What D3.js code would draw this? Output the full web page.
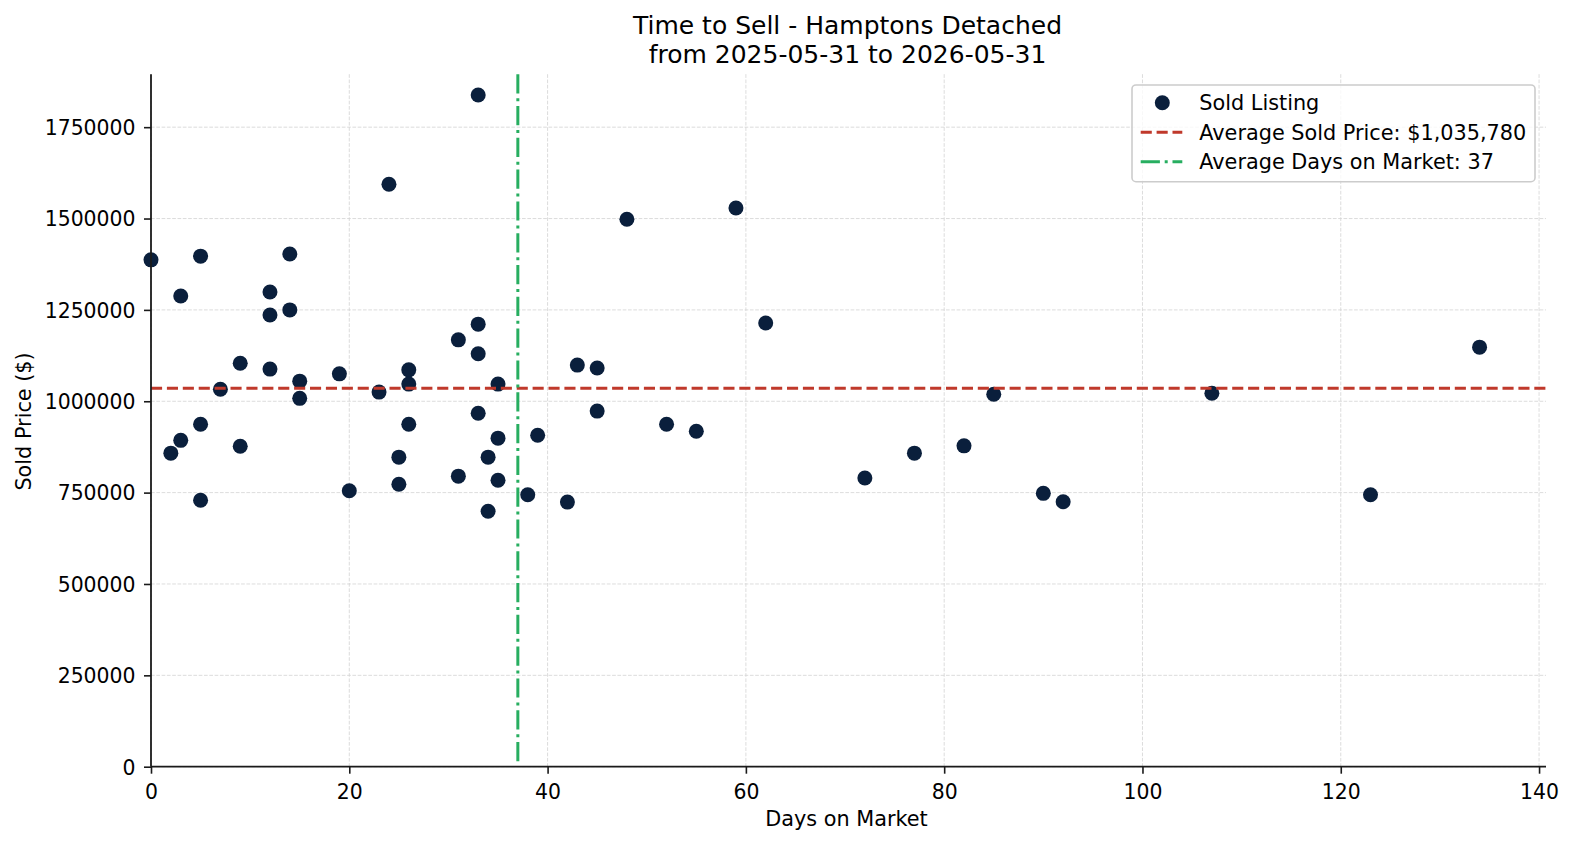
<!DOCTYPE html>
<html>
<head>
<meta charset="utf-8">
<script src="https://cdn.jsdelivr.net/npm/d3@7"></script>
<style>
  html, body { margin: 0; padding: 0; background: #ffffff; }
  svg { display: block; font-family: "DejaVu Sans", sans-serif; }
</style>
</head>
<body>
<svg id="chart" width="1573" height="845"></svg>
<script>
// ---- Data ----
const daysOnMarket = [0, 2, 3, 3, 5, 5, 5, 7, 9, 9, 12, 12, 12, 14, 14, 15, 15, 19, 20, 23, 24, 25, 25, 26, 26, 26,
  31, 31, 33, 33, 33, 33, 34, 34, 35, 35, 35, 38, 39, 42, 43, 45, 45, 48, 52, 55, 59, 62, 72, 77, 82, 85, 90, 92,
  107, 123, 134];
const soldPrices = [1387000, 858000, 1288000, 893000, 1397000, 937000, 729000, 1033000, 1104000, 877000,
  1299000, 1236000, 1088000, 1403000, 1250000, 1055000, 1008000, 1075000, 755000, 1025000, 1594000,
  847000, 773000, 1086000, 1047000, 937000, 1168000, 795000, 1838000, 1211000, 1130000, 967000,
  847000, 699000, 1047000, 899000, 784000, 744000, 907000, 724000, 1099000, 1091000, 973000, 1498000,
  937000, 918000, 1529000, 1214000, 790000, 858000, 878000, 1019000, 748000, 725000, 1022000, 744000, 1148000];
const averageSoldPrice = 1035780;
const averageDays = 37;
const xTickValues = [0, 20, 40, 60, 80, 100, 120, 140];
const yTickValues = [0, 250000, 500000, 750000, 1000000, 1250000, 1500000, 1750000];
const titleLines = ["Time to Sell - Hamptons Detached", "from 2025-05-31 to 2026-05-31"];
const legendLabels = ["Sold Listing", "Average Sold Price: $1,035,780", "Average Days on Market: 37"];

// ---- Layout ----
const plot = { left: 151, right: 1546, top: 74.2, bottom: 766.7 };
const colors = { point: "#0a1f3c", red: "#c0392b", green: "#27ae60", grid: "#d3d3d3", axis: "#1a1a1a" };
const svg = d3.select("#chart");

const xMax = d3.max(daysOnMarket), xMin = d3.min(daysOnMarket);
const yMax = d3.max(soldPrices), yMin = d3.min(soldPrices);
const x = d3.scaleLinear().domain([0, xMax + 0.05 * (xMax - xMin)]).range([plot.left, plot.right]);
const y = d3.scaleLinear().domain([0, yMax + 0.05 * (yMax - yMin)]).range([plot.bottom, plot.top]);

// Grid
const grid = svg.append("g");
grid.selectAll("line.vg").data(xTickValues).join("line")
  .attr("x1", d => x(d)).attr("x2", d => x(d)).attr("y1", plot.top).attr("y2", plot.bottom)
  .attr("stroke", colors.grid).attr("stroke-width", 0.8).attr("stroke-dasharray", "3.7,1.6");
grid.selectAll("line.hg").data(yTickValues).join("line")
  .attr("x1", plot.left).attr("x2", plot.right).attr("y1", d => y(d)).attr("y2", d => y(d))
  .attr("stroke", colors.grid).attr("stroke-width", 0.8).attr("stroke-dasharray", "3.7,1.6");

// Points
const pts = daysOnMarket.map((d, i) => ({ d, p: soldPrices[i] }));
svg.append("g").selectAll("circle").data(pts).join("circle")
  .attr("cx", d => x(d.d)).attr("cy", d => y(d.p)).attr("r", 7.5)
  .attr("fill", colors.point);

// Average lines
svg.append("line")
  .attr("x1", plot.left).attr("x2", plot.right).attr("y1", y(averageSoldPrice)).attr("y2", y(averageSoldPrice))
  .attr("stroke", colors.red).attr("stroke-width", 3).attr("stroke-dasharray", "11.1,4.8");
svg.append("line")
  .attr("x1", x(averageDays)).attr("x2", x(averageDays)).attr("y1", plot.top).attr("y2", plot.bottom)
  .attr("stroke", colors.green).attr("stroke-width", 3).attr("stroke-dasharray", "19.2,4.8,3,4.8");

// Axes
const fontSize = 20.4;
const labelSize = 20.8;
const xAxis = d3.axisBottom(x).tickValues(xTickValues).tickFormat(d3.format("d")).tickSize(7).tickPadding(7);
const gx = svg.append("g").attr("transform", `translate(0,${plot.bottom})`).call(xAxis);
gx.select(".domain").attr("d", `M${plot.left},0H${plot.right}`).attr("stroke", colors.axis).attr("stroke-width", 1.8);
gx.selectAll(".tick line").attr("stroke", colors.axis).attr("stroke-width", 1.6);
gx.selectAll(".tick text").attr("font-size", fontSize).attr("font-family", "DejaVu Sans").attr("fill", "#000")
  .attr("dy", null).attr("y", 32).attr("dominant-baseline", "alphabetic");

const yAxis = d3.axisLeft(y).tickValues(yTickValues).tickFormat(d3.format("d")).tickSize(7).tickPadding(8);
const gy = svg.append("g").attr("transform", `translate(${plot.left},0)`).call(yAxis);
gy.select(".domain").attr("d", `M0,${plot.top}V${plot.bottom}`).attr("stroke", colors.axis).attr("stroke-width", 1.8);
gy.selectAll(".tick line").attr("stroke", colors.axis).attr("stroke-width", 1.6);
gy.selectAll(".tick text").attr("font-size", fontSize).attr("font-family", "DejaVu Sans").attr("fill", "#000")
  .attr("dy", "0.36em").attr("x", -15.5);

// Axis labels
svg.append("text").attr("x", (plot.left + plot.right) / 2 - 2).attr("y", 826)
  .attr("text-anchor", "middle").attr("font-size", labelSize).attr("fill", "#000").text("Days on Market");
svg.append("text").attr("transform", `translate(31,${(plot.top + plot.bottom) / 2 + 1}) rotate(-90)`)
  .attr("text-anchor", "middle").attr("font-size", labelSize).attr("fill", "#000").text("Sold Price ($)");

// Title
svg.append("g").selectAll("text").data(titleLines).join("text")
  .attr("x", (plot.left + plot.right) / 2 - 1).attr("y", (d, i) => 34 + i * 29)
  .attr("text-anchor", "middle").attr("font-size", 25).attr("fill", "#000").text(d => d);

// Legend
const lg = svg.append("g");
lg.append("rect").attr("x", 1132).attr("y", 85).attr("width", 403).attr("height", 96.7)
  .attr("rx", 4).attr("fill", "#fff").attr("fill-opacity", 0.8)
  .attr("stroke", "#cccccc").attr("stroke-width", 1.6);
const rowY = [102.7, 132.3, 161.7];
lg.append("circle").attr("cx", 1162.3).attr("cy", rowY[0]).attr("r", 7.5).attr("fill", colors.point);
lg.append("line").attr("x1", 1140.7).attr("x2", 1182.3).attr("y1", rowY[1]).attr("y2", rowY[1])
  .attr("stroke", colors.red).attr("stroke-width", 3).attr("stroke-dasharray", "11.1,4.8");
lg.append("line").attr("x1", 1140.7).attr("x2", 1182.3).attr("y1", rowY[2]).attr("y2", rowY[2])
  .attr("stroke", colors.green).attr("stroke-width", 3).attr("stroke-dasharray", "19.2,4.8,3,4.8");
lg.selectAll("text").data(legendLabels).join("text")
  .attr("x", 1199.3).attr("y", (d, i) => rowY[i] + 7.5)
  .attr("font-size", labelSize).attr("fill", "#000").text(d => d);
</script>
</body>
</html>
